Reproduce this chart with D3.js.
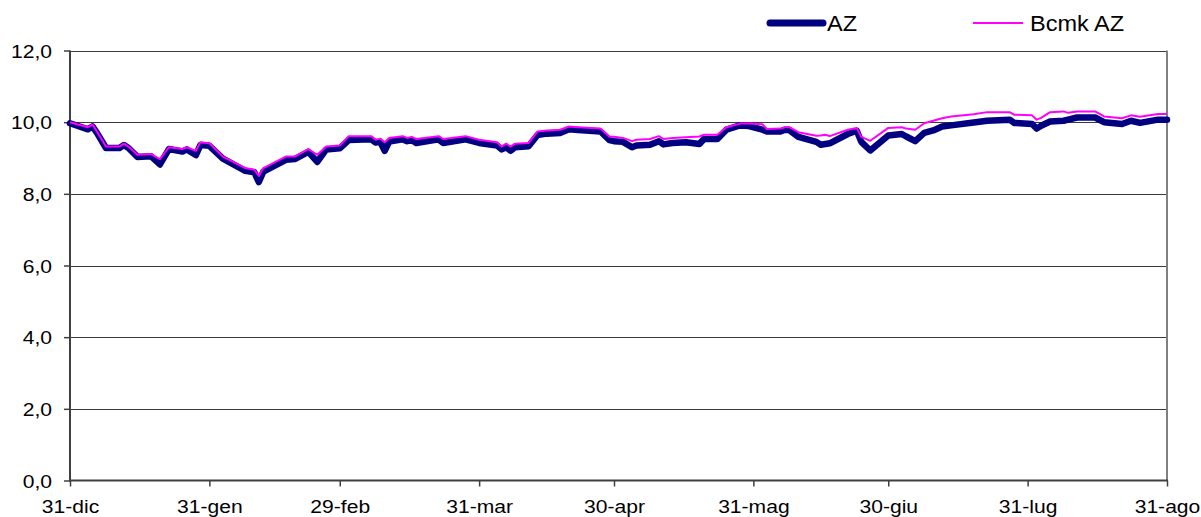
<!DOCTYPE html>
<html>
<head>
<meta charset="utf-8">
<script src="https://cdn.jsdelivr.net/npm/d3@7"></script>
<style>
  html, body { margin: 0; padding: 0; background: #ffffff; }
  svg { display: block; }
  text { font-family: "Liberation Sans", Arial, sans-serif; fill: #000; }
</style>
</head>
<body>
<svg id="chart" width="1201" height="517"></svg>
<script>
// ---- data ----
const dates = [
  "2007-12-31","2008-01-04","2008-01-05","2008-01-06","2008-01-08","2008-01-11","2008-01-12","2008-01-13",
  "2008-01-15","2008-01-18","2008-01-20","2008-01-22","2008-01-25","2008-01-26","2008-01-28","2008-01-29",
  "2008-01-31","2008-02-03","2008-02-08","2008-02-10","2008-02-11","2008-02-12","2008-02-17","2008-02-19",
  "2008-02-22","2008-02-24","2008-02-26","2008-02-29","2008-03-02","2008-03-07","2008-03-08","2008-03-09",
  "2008-03-10","2008-03-11","2008-03-14","2008-03-15","2008-03-16","2008-03-17","2008-03-22","2008-03-23",
  "2008-03-28","2008-03-31","2008-04-04","2008-04-05","2008-04-06","2008-04-07","2008-04-08","2008-04-11",
  "2008-04-13","2008-04-15","2008-04-18","2008-04-20","2008-04-22","2008-04-27","2008-04-29","2008-04-30",
  "2008-05-02","2008-05-04","2008-05-05","2008-05-08","2008-05-10","2008-05-11","2008-05-13","2008-05-16",
  "2008-05-19","2008-05-20","2008-05-23","2008-05-25","2008-05-28","2008-05-30","2008-06-02","2008-06-03",
  "2008-06-06","2008-06-07","2008-06-08","2008-06-10","2008-06-14","2008-06-15","2008-06-16","2008-06-17",
  "2008-06-21","2008-06-23","2008-06-24","2008-06-26","2008-06-30","2008-07-03","2008-07-04","2008-07-06",
  "2008-07-08","2008-07-10","2008-07-12","2008-07-14","2008-07-19","2008-07-22","2008-07-27","2008-07-28",
  "2008-08-01","2008-08-02","2008-08-03","2008-08-05","2008-08-08","2008-08-09","2008-08-11","2008-08-15",
  "2008-08-17","2008-08-21","2008-08-23","2008-08-25","2008-08-29","2008-08-31"
];
const bcmkValues = [
  10.00, 9.86, 9.93, 9.74, 9.32, 9.32, 9.40, 9.32,
  9.09, 9.11, 8.97, 9.30, 9.25, 9.30, 9.20, 9.44,
  9.41, 9.04, 8.72, 8.67, 8.50, 8.72, 9.04, 9.04,
  9.25, 9.09, 9.32, 9.35, 9.61, 9.61, 9.51, 9.54,
  9.44, 9.56, 9.61, 9.56, 9.59, 9.53, 9.61, 9.53,
  9.61, 9.51, 9.44, 9.32, 9.40, 9.32, 9.40, 9.42,
  9.74, 9.77, 9.79, 9.88, 9.86, 9.82, 9.59, 9.59,
  9.56, 9.47, 9.51, 9.53, 9.61, 9.53, 9.56, 9.58,
  9.60, 9.65, 9.65, 9.86, 9.96, 9.96, 9.94, 9.81,
  9.82, 9.86, 9.86, 9.72, 9.62, 9.63, 9.65, 9.61,
  9.79, 9.84, 9.59, 9.48, 9.84, 9.86, 9.82, 9.79,
  9.97, 10.04, 10.11, 10.16, 10.22, 10.28, 10.28, 10.21,
  10.19, 10.07, 10.12, 10.28, 10.30, 10.26, 10.30, 10.30,
  10.16, 10.11, 10.19, 10.15, 10.23, 10.23
];
const azValues = [
  9.97, 9.80, 9.88, 9.70, 9.28, 9.28, 9.36, 9.28,
  9.03, 9.05, 8.82, 9.25, 9.18, 9.24, 9.08, 9.36,
  9.34, 8.98, 8.64, 8.60, 8.33, 8.62, 8.95, 8.97,
  9.17, 8.89, 9.24, 9.27, 9.50, 9.52, 9.43, 9.45,
  9.20, 9.46, 9.52, 9.47, 9.50, 9.42, 9.52, 9.42,
  9.52, 9.42, 9.35, 9.24, 9.30, 9.20, 9.30, 9.33,
  9.64, 9.68, 9.70, 9.80, 9.78, 9.74, 9.50, 9.47,
  9.45, 9.30, 9.35, 9.37, 9.47, 9.38, 9.42, 9.44,
  9.39, 9.53, 9.53, 9.79, 9.91, 9.89, 9.79, 9.74,
  9.74, 9.79, 9.78, 9.59, 9.45, 9.37, 9.39, 9.41,
  9.67, 9.76, 9.45, 9.21, 9.63, 9.67, 9.60, 9.47,
  9.70, 9.77, 9.88, 9.91, 9.99, 10.04, 10.07, 9.98,
  9.95, 9.82, 9.90, 10.02, 10.04, 10.07, 10.13, 10.13,
  10.00, 9.95, 10.04, 9.98, 10.07, 10.07
];
const tickDates = ["2007-12-31","2008-01-31","2008-02-29","2008-03-31","2008-04-30","2008-05-31","2008-06-30","2008-07-31","2008-08-31"];
const tickLabels = ["31-dic","31-gen","29-feb","31-mar","30-apr","31-mag","30-giu","31-lug","31-ago"];
const yTicks = [0, 2, 4, 6, 8, 10, 12];
const seriesNames = ["AZ", "Bcmk AZ"];

// ---- layout ----
const L = 70, R = 1167, T = 50.5, B = 480.5;
const parse = d3.timeParse("%Y-%m-%d");
const svg = d3.select("#chart");

const x = d3.scaleTime().domain([parse(tickDates[0]), parse(tickDates[tickDates.length - 1])]).range([L, R]);
const y = d3.scaleLinear().domain([0, 12]).range([B, T]);

const itLocale = d3.formatLocale({decimal: ",", thousands: ".", grouping: [3], currency: ["€", ""]});
const fmt = itLocale.format(".1f");

const AX_FONT = 18.5, AX_STRETCH = 1.14;

// gridlines
svg.append("g")
  .selectAll("line")
  .data(yTicks.filter(v => v > 0))
  .join("line")
  .attr("x1", L).attr("x2", R)
  .attr("y1", d => Math.round(y(d)) + 0.5).attr("y2", d => Math.round(y(d)) + 0.5)
  .attr("stroke", "#3a3a3a").attr("stroke-width", 1);

// y axis
const yAxis = svg.append("g")
  .attr("transform", `translate(${L},0)`)
  .call(d3.axisLeft(y).tickValues(yTicks).tickFormat(d => fmt(d)).tickSize(6).tickPadding(0));
yAxis.select(".domain").remove();
yAxis.selectAll(".tick line").attr("stroke", "#404040").attr("stroke-width", 1.5);
yAxis.selectAll(".tick text")
  .attr("x", null).attr("dy", null)
  .attr("font-size", AX_FONT)
  .attr("text-anchor", "end")
  .attr("transform", `translate(-18,6.5) scale(${AX_STRETCH},1)`)
  .style("font-family", "'Liberation Sans', Arial, sans-serif");

// x axis
const xAxis = svg.append("g")
  .attr("transform", `translate(0,${B})`)
  .call(d3.axisBottom(x).tickValues(tickDates.map(parse)).tickFormat((d, i) => tickLabels[i]).tickSize(6).tickPadding(0));
xAxis.select(".domain").remove();
xAxis.selectAll(".tick line").attr("stroke", "#404040").attr("stroke-width", 1.5);
xAxis.selectAll(".tick text")
  .attr("y", null).attr("dy", null)
  .attr("font-size", AX_FONT)
  .attr("text-anchor", "middle")
  .attr("transform", `translate(0,32) scale(${AX_STRETCH},1)`)
  .style("font-family", "'Liberation Sans', Arial, sans-serif");

// axis lines / border
svg.append("line").attr("x1", L).attr("x2", L).attr("y1", T).attr("y2", B + 1)
  .attr("stroke", "#404040").attr("stroke-width", 2);
svg.append("line").attr("x1", R).attr("x2", R).attr("y1", T).attr("y2", B)
  .attr("stroke", "#808080").attr("stroke-width", 2);

// series
const rowsAZ = dates.map((d, i) => ({date: parse(d), v: azValues[i]}));
const rowsB = dates.map((d, i) => ({date: parse(d), v: bcmkValues[i]}));
const line = d3.line().x(d => x(d.date)).y(d => y(d.v));

svg.append("path").datum(rowsAZ)
  .attr("d", line)
  .attr("fill", "none").attr("stroke", "#000080").attr("stroke-width", 6.5)
  .attr("stroke-linejoin", "round").attr("stroke-linecap", "round");
svg.append("path").datum(rowsB)
  .attr("d", line)
  .attr("fill", "none").attr("stroke", "#FF00FF").attr("stroke-width", 2)
  .attr("stroke-linejoin", "round");

// bottom axis line on top
svg.append("line").attr("x1", L - 1).attr("x2", R + 1).attr("y1", B).attr("y2", B)
  .attr("stroke", "#404040").attr("stroke-width", 2);

// legend
const LEG_FONT = 22, LEG_STRETCH = 1.07;
const legend = [
  {name: seriesNames[0], x1: 770, x2: 823, color: "#000080", w: 7, cap: "round", tx: 827},
  {name: seriesNames[1], x1: 973, x2: 1023, color: "#FF00FF", w: 2, cap: "butt", tx: 1030}
];
legend.forEach(l => {
  svg.append("line").attr("x1", l.x1).attr("x2", l.x2).attr("y1", 23).attr("y2", 23)
    .attr("stroke", l.color).attr("stroke-width", l.w).attr("stroke-linecap", l.cap);
  svg.append("text")
    .attr("transform", `translate(${l.tx},31) scale(${LEG_STRETCH},1)`)
    .attr("font-size", LEG_FONT)
    .text(l.name);
});
</script>
</body>
</html>
